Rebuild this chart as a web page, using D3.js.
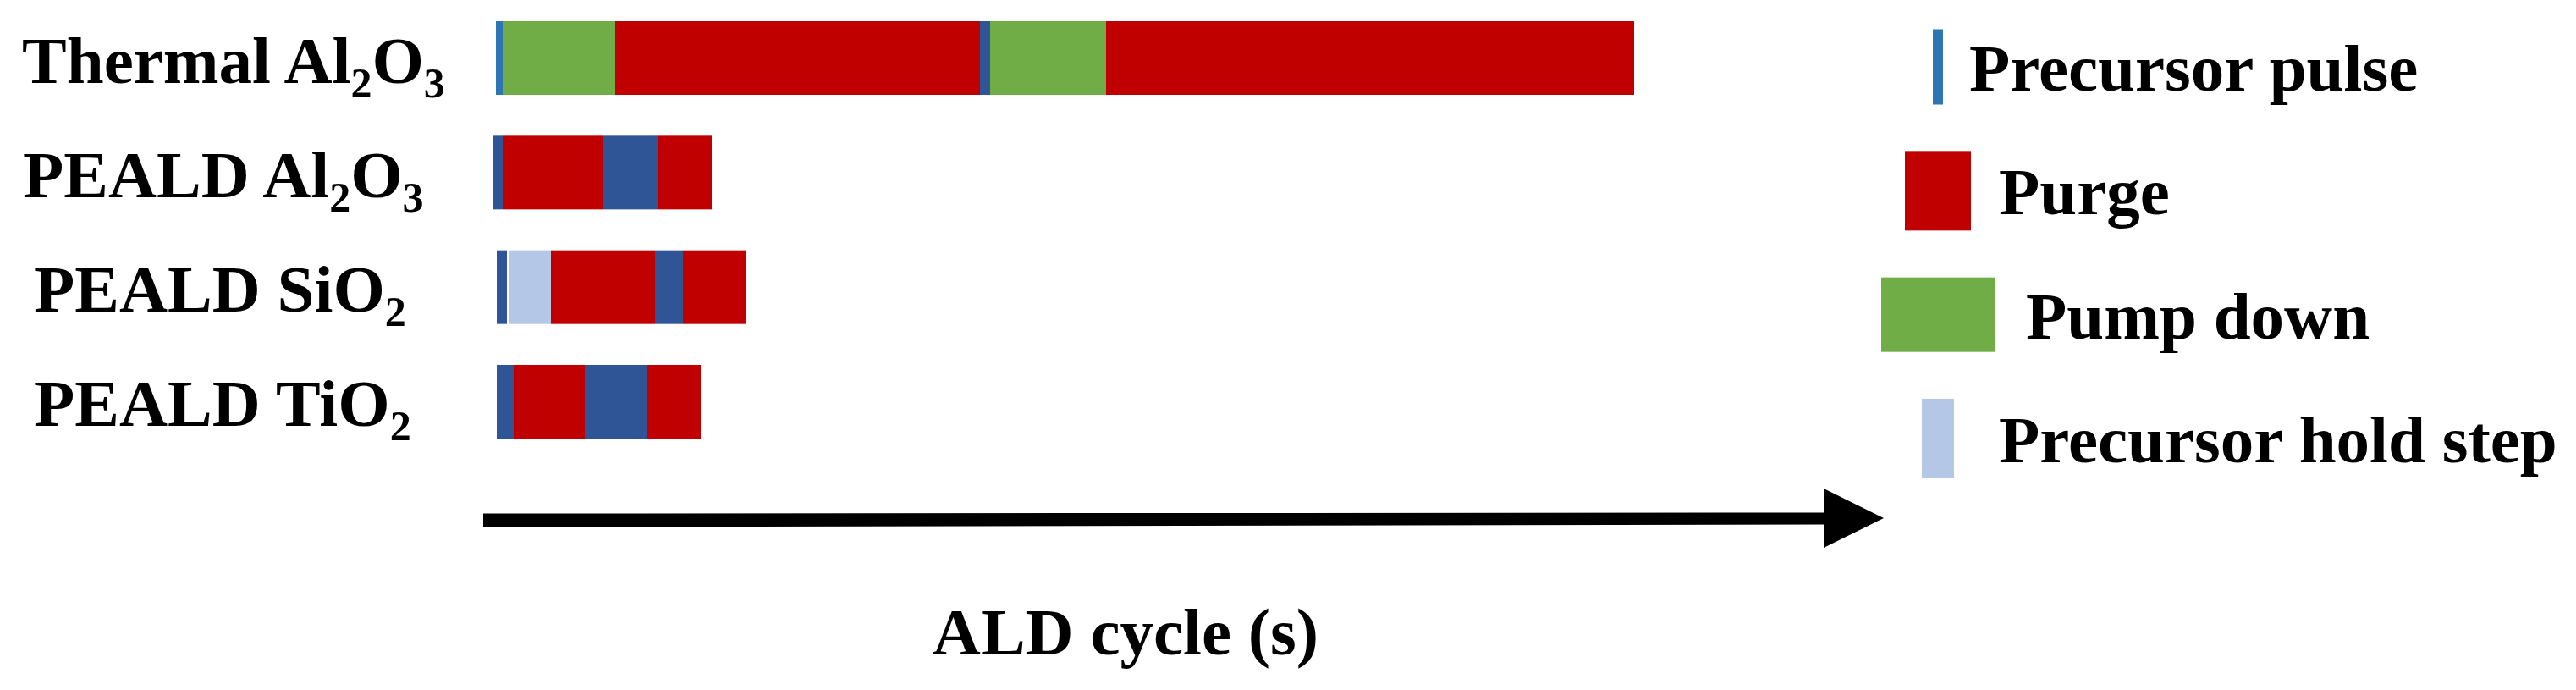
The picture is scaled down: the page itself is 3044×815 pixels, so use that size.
<!DOCTYPE html>
<html><head><meta charset="utf-8">
<script src="https://cdn.jsdelivr.net/npm/d3@7"></script>
<style>
body{margin:0;background:#fff;}
text{font-family:"Liberation Serif","Times New Roman",serif;font-weight:bold;fill:#000;}
</style>
</head><body>
<svg id="chart" width="3044" height="815"></svg>
<script>
// ---- data ----
const categories = ["Thermal Al2O3", "PEALD Al2O3", "PEALD SiO2", "PEALD TiO2"];
// label pieces: [text, isSubscript]
const labelThermal = [["Thermal Al", 0], ["2", 1], ["O", 0], ["3", 1]];
const labelAl2O3   = [["PEALD Al", 0], ["2", 1], ["O", 0], ["3", 1]];
const labelSiO2    = [["PEALD SiO", 0], ["2", 1]];
const labelTiO2    = [["PEALD TiO", 0], ["2", 1]];
const startTimes = [0, -0.4, 0.1, 0.1];           // s
const thermalSteps = ["pulse", "pump", "purge", "step", "pump", "purge"];
const thermalDur   = [0.8, 13.3, 43.1, 1.2, 13.7, 62.4];
const pealdAl2O3Steps = ["step", "purge", "step", "purge"];
const pealdAl2O3Dur   = [1.2, 11.9, 6.4, 6.4];
const pealdSiO2Steps = ["step", "gap", "hold", "purge", "step", "purge"];
const pealdSiO2Dur   = [1.2, 0.2, 5.0, 12.3, 3.3, 7.4];
const pealdTiO2Steps = ["step", "purge", "step", "purge"];
const pealdTiO2Dur   = [2.0, 8.4, 7.3, 6.4];
const legendLabels = ["Precursor pulse", "Purge", "Pump down", "Precursor hold step"];
const legendKeys   = ["pulse", "purge", "pump", "hold"];
const axisTitle = "ALD cycle (s)";
const axisDomain = [-1.5, 164];

// ---- styles ----
const colors = {pulse: "#2E75B6", purge: "#C00000", pump: "#70AD47", hold: "#B4C7E7", step: "#2F5597", gap: "#FFFFFF"};
const FS = 79, SUB = 50, SUBDY = 17;

const svg = d3.select("#chart");
const x = d3.scaleLinear().domain([0, 10]).range([586, 686]);
const y = d3.scaleBand().domain(categories).range([25, 518]).paddingInner(0.357);

const rows = [
  {cat: categories[0], label: labelThermal, steps: thermalSteps, dur: thermalDur, start: startTimes[0]},
  {cat: categories[1], label: labelAl2O3, steps: pealdAl2O3Steps, dur: pealdAl2O3Dur, start: startTimes[1]},
  {cat: categories[2], label: labelSiO2, steps: pealdSiO2Steps, dur: pealdSiO2Dur, start: startTimes[2]},
  {cat: categories[3], label: labelTiO2, steps: pealdTiO2Steps, dur: pealdTiO2Dur, start: startTimes[3]}
];
const labelX = [26, 27, 40, 40];

rows.forEach((r, i) => {
  let t = r.start;
  const segs = r.steps.map((s, k) => { const seg = {type: s, t0: t, t1: t + r.dur[k]}; t += r.dur[k]; return seg; });
  svg.append("g").selectAll("rect").data(segs).join("rect")
    .attr("x", d => x(d.t0))
    .attr("width", d => x(d.t1) - x(d.t0))
    .attr("y", y(r.cat))
    .attr("height", y.bandwidth())
    .attr("fill", d => colors[d.type]);

  const txt = svg.append("text")
    .attr("x", labelX[i])
    .attr("y", y(r.cat) + y.bandwidth() / 2 + 29)
    .attr("font-size", FS);
  let prevSub = 0;
  r.label.forEach(([s, sub]) => {
    const ts = txt.append("tspan").text(s).attr("font-size", sub ? SUB : FS);
    if (sub !== prevSub) ts.attr("dy", sub ? SUBDY : -SUBDY);
    prevSub = sub;
  });
});

// arrow axis
const ay = 614;
const axisG = svg.append("g");
axisG.append("polygon")
  .attr("points", [[x(axisDomain[0]), ay - 7.5], [x(156.9), ay - 8.5], [x(156.9), ay + 5.5], [x(axisDomain[0]), ay + 8.5]].map(p => p.join(",")).join(" "))
  .attr("fill", "#000");
axisG.append("polygon")
  .attr("points", [[x(156.9), 577], [x(axisDomain[1]), 612], [x(156.9), 647]].map(p => p.join(",")).join(" "))
  .attr("fill", "#000");
axisG.append("text")
  .attr("x", 1330).attr("y", 773)
  .attr("text-anchor", "middle")
  .attr("font-size", FS)
  .text(axisTitle);

// legend
const legendY = d3.scalePoint().domain(legendLabels).range([79, 518]);
const swW = {pulse: 12, purge: 78, pump: 134, hold: 38};
const swH = {pulse: 89, purge: 94, pump: 88, hold: 94};
const txtX = {pulse: 2327, purge: 2362, pump: 2394, hold: 2362};
const lg = svg.append("g");
legendLabels.forEach((lab, i) => {
  const k = legendKeys[i];
  const cy = legendY(lab);
  lg.append("rect")
    .attr("x", 2290 - swW[k] / 2).attr("width", swW[k])
    .attr("y", cy - swH[k] / 2).attr("height", swH[k])
    .attr("fill", colors[k]);
  lg.append("text")
    .attr("x", txtX[k]).attr("y", cy + 28)
    .attr("font-size", FS)
    .text(lab);
});
</script>
</body></html>
